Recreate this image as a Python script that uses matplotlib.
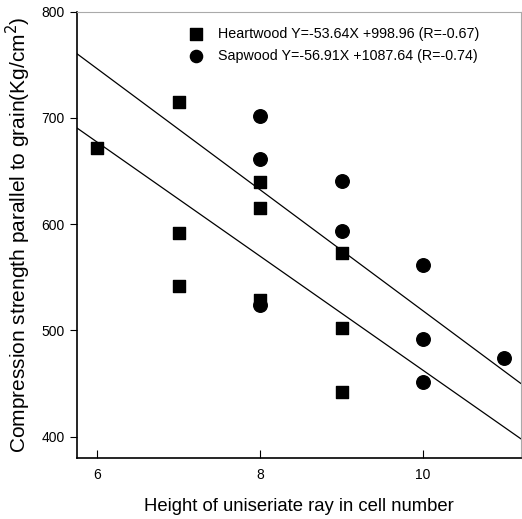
import matplotlib
matplotlib.use("Agg")
import matplotlib.pyplot as plt
import numpy as np

plt.rcParams['font.family'] = ['Liberation Sans', 'DejaVu Sans']

heart_x = [6, 7, 7, 7, 8, 8, 8, 9, 9, 9]
heart_y = [672, 715, 592, 542, 640, 615, 529, 573, 502, 442]
sap_x = [8, 8, 8, 9, 9, 10, 10, 10, 11]
sap_y = [702, 661, 524, 641, 594, 562, 492, 452, 474]
heart_fit = (-53.64, 998.96)
sap_fit = (-56.91, 1087.64)
heart_label = "Heartwood Y=-53.64X +998.96 (R=-0.67)"
sap_label = "Sapwood Y=-56.91X +1087.64 (R=-0.74)"
xlim = (5.75, 11.2)
ylim = (380, 800)

fig = plt.figure(figsize=(5.22, 5.19), dpi=100)
ax = fig.add_axes([0.1475, 0.1175, 0.85, 0.86])

ax.scatter(heart_x, heart_y, marker='s', s=85, color='black', zorder=3, label=heart_label)
ax.scatter(sap_x, sap_y, marker='o', s=95, color='black', zorder=3, label=sap_label)

xs = np.array(xlim)
ax.plot(xs, heart_fit[0] * xs + heart_fit[1], color='black', lw=0.9)
ax.plot(xs, sap_fit[0] * xs + sap_fit[1], color='black', lw=0.9)

ax.set_xlim(*xlim)
ax.set_ylim(*ylim)
ax.set_xticks([6, 8, 10])
ax.set_yticks([400, 500, 600, 700, 800])
ax.tick_params(axis='x', direction='in', length=6, labelsize=10, pad=7)
ax.tick_params(axis='y', direction='out', length=5, labelsize=10, pad=4)
for s in ['left', 'bottom']:
    ax.spines[s].set_linewidth(1.2)
for s in ['top', 'right']:
    ax.spines[s].set_color('#aaaaaa')
    ax.spines[s].set_linewidth(0.8)

ax.set_xlabel("Height of uniseriate ray in cell number", fontsize=13.3, labelpad=12)
ax.set_ylabel("Compression strength parallel to grain(Kg/cm$^2$)", fontsize=15, labelpad=6)

ax.legend(loc='upper left', bbox_to_anchor=(0.208, 0.994), frameon=False, fontsize=10.3,
          handletextpad=0.5, labelspacing=0.55, markerscale=0.9)

fig.savefig("out.png", dpi=100)
